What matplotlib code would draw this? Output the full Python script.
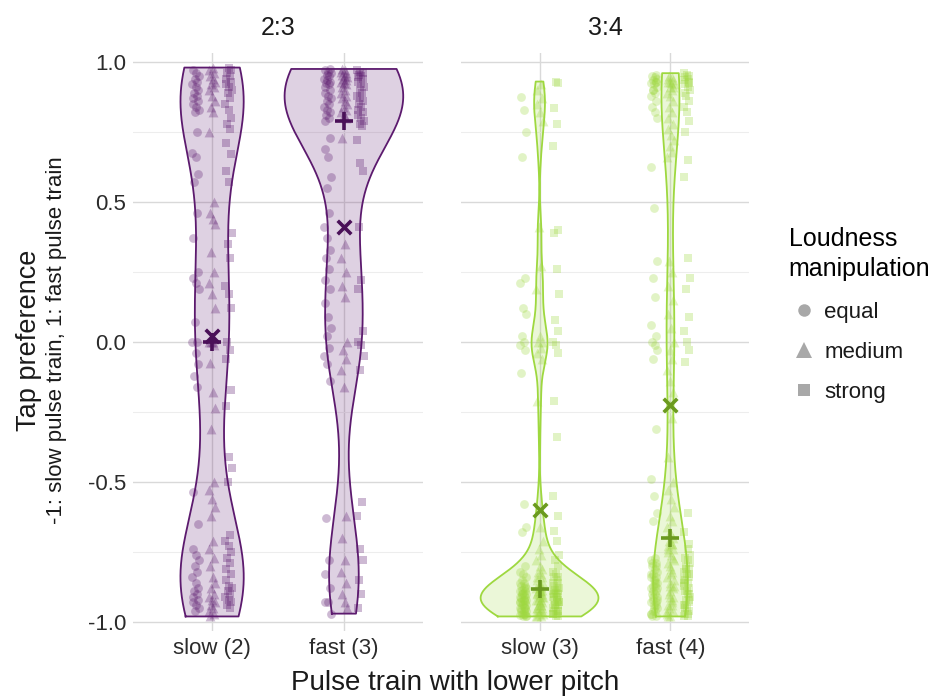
import numpy as np
import matplotlib
matplotlib.use('Agg')
import matplotlib.pyplot as plt
from matplotlib.lines import Line2D

plt.rcParams['font.family'] = ['Liberation Sans', 'DejaVu Sans']

# tap preference per trial: -1 = slow pulse train, 1 = fast pulse train
# ratio 2:3, lower pitch on the slow (2) train
slow2_equal = [0.97, 0.96, 0.95, 0.94, 0.93, 0.92, 0.91, 0.90, 0.89, 0.88, 0.87, 0.86, 0.85, 0.84, 0.83, 0.82,
               0.75, 0.675, 0.66, 0.60, 0.57, 0.46, 0.37, 0.25, 0.23, 0.21, 0.19, 0.07, 0.0, 0.0,
               -0.04, -0.08, -0.12, -0.16, -0.535, -0.65,
               -0.74, -0.76, -0.78, -0.80, -0.82, -0.84, -0.86, -0.88, -0.89, -0.90, -0.91, -0.92,
               -0.93, -0.94, -0.95, -0.96]
slow2_medium = [0.98, 0.97, 0.96, 0.95, 0.94, 0.93, 0.92, 0.91, 0.90, 0.88, 0.86, 0.84, 0.82,
                0.75, 0.50, 0.46, 0.44, 0.42, 0.32, 0.25, 0.21, 0.17, 0.12, 0.0, 0.0, 0.0, -0.01,
                -0.075, -0.18, -0.235, -0.31, -0.50, -0.53, -0.56, -0.59, -0.62, -0.71, -0.74, -0.77, -0.80,
                -0.84, -0.86, -0.88, -0.90, -0.91, -0.92, -0.93, -0.94, -0.95, -0.96, -0.97, -0.98]
slow2_strong = [0.98, 0.97, 0.96, 0.95, 0.94, 0.93, 0.92, 0.91, 0.90, 0.89, 0.87, 0.85, 0.83, 0.80, 0.78, 0.76,
                0.71, 0.67, 0.61, 0.57, 0.39, 0.35, 0.30, 0.20, 0.17, 0.12, 0.0,
                -0.03, -0.06, -0.17, -0.23, -0.41, -0.45, -0.50,
                -0.69, -0.71, -0.73, -0.75, -0.77, -0.79, -0.81, -0.83, -0.85, -0.87, -0.88, -0.89,
                -0.90, -0.91, -0.92, -0.93, -0.94, -0.95]

# ratio 2:3, lower pitch on the fast (3) train
fast3_equal = [0.975, 0.97, 0.965, 0.96, 0.955, 0.95, 0.94, 0.935, 0.93, 0.925, 0.92, 0.91, 0.90, 0.89,
               0.88, 0.87, 0.86, 0.85, 0.84, 0.83, 0.82, 0.81, 0.80,
               0.79, 0.73, 0.69, 0.66, 0.59, 0.55, 0.46, 0.41, 0.37, 0.33, 0.30, 0.26, 0.22, 0.19, 0.14,
               0.09, 0.05, 0.02,
               -0.02, -0.05, -0.08, -0.14, -0.63, -0.78, -0.83, -0.88, -0.93, -0.93, -0.97]
fast3_medium = [0.975, 0.97, 0.965, 0.96, 0.955, 0.95, 0.945, 0.94, 0.935, 0.93, 0.925, 0.92, 0.91, 0.90,
                0.89, 0.88, 0.87, 0.86, 0.85, 0.84, 0.83, 0.82, 0.81, 0.80,
                0.73, 0.35, 0.30, 0.25, 0.20, 0.16, 0.0,
                -0.03, -0.06, -0.10, -0.16, -0.62, -0.70, -0.78, -0.82, -0.86, -0.90, -0.93, -0.95]
fast3_strong = [0.97, 0.965, 0.96, 0.955, 0.95, 0.945, 0.94, 0.93, 0.92, 0.91, 0.90, 0.89, 0.88, 0.87,
                0.86, 0.85, 0.84, 0.83, 0.82, 0.81, 0.80, 0.79, 0.78, 0.77,
                0.72, 0.64, 0.61, 0.41, 0.22, 0.19, 0.04, 0.0,
                -0.01, -0.05, -0.10, -0.57, -0.62, -0.74, -0.78, -0.85, -0.90, -0.95]

# ratio 3:4, lower pitch on the slow (3) train
slow3_equal = [0.875, 0.83, 0.75, 0.66,
               0.23, 0.21, 0.12, 0.10, 0.02, 0.0, -0.01, -0.03, -0.11,
               -0.58, -0.66, -0.68,
               -0.80, -0.82, -0.83, -0.84, -0.85, -0.86, -0.86, -0.87, -0.87, -0.88,
               -0.88, -0.885, -0.89, -0.89, -0.895, -0.90, -0.90, -0.905, -0.91, -0.91,
               -0.915, -0.92, -0.92, -0.925, -0.93, -0.93, -0.935, -0.94, -0.94, -0.945,
               -0.95, -0.95, -0.955, -0.96, -0.96, -0.97, -0.97, -0.975, -0.98, -0.98,
               -0.90, -0.92, -0.93, -0.95, -0.96, -0.97, -0.98]
slow3_medium = [0.92, 0.90, 0.87, 0.85, 0.82, 0.79,
                0.41, 0.27, 0.19, 0.02, 0.0, 0.0, -0.02, -0.04, -0.06, -0.21,
                -0.66,
                -0.71, -0.74, -0.76, -0.78, -0.80, -0.81, -0.82, -0.83, -0.84, -0.84,
                -0.85, -0.86, -0.86, -0.87, -0.875, -0.88, -0.88, -0.885, -0.89, -0.89,
                -0.895, -0.90, -0.90, -0.905, -0.91, -0.91, -0.92, -0.92, -0.93, -0.93,
                -0.94, -0.94, -0.95, -0.95, -0.96, -0.96, -0.97, -0.97, -0.98, -0.98,
                -0.89, -0.91, -0.92, -0.94, -0.95, -0.96, -0.98]
slow3_strong = [0.93, 0.925, 0.835, 0.78, 0.70,
                0.40, 0.39, 0.26, 0.17, 0.08, 0.04, 0.0, -0.01, -0.04, -0.21, -0.34,
                -0.55, -0.62, -0.675, -0.71,
                -0.76, -0.78, -0.80, -0.82, -0.83, -0.84, -0.84, -0.85, -0.86, -0.86,
                -0.87, -0.88, -0.88, -0.885, -0.89, -0.89, -0.895, -0.90, -0.90, -0.91,
                -0.91, -0.92, -0.92, -0.93, -0.93, -0.94, -0.94, -0.95, -0.95, -0.96,
                -0.96, -0.97, -0.97, -0.98,
                -0.90, -0.91, -0.93, -0.94, -0.96, -0.97, -0.98]

# ratio 3:4, lower pitch on the fast (4) train
fast4_equal = [0.955, 0.95, 0.945, 0.94, 0.935, 0.93, 0.925, 0.92, 0.91, 0.90, 0.89, 0.88, 0.86, 0.84,
               0.82, 0.80, 0.90, 0.93,
               0.625, 0.48, 0.29, 0.23, 0.16, 0.06, 0.02, 0.0, -0.01, -0.03, -0.06,
               -0.31, -0.49, -0.55, -0.61, -0.64,
               -0.77, -0.78, -0.79, -0.80, -0.81, -0.82, -0.83, -0.84, -0.84, -0.85,
               -0.86, -0.87, -0.87, -0.88, -0.89, -0.90, -0.90, -0.91, -0.92, -0.93,
               -0.93, -0.94, -0.95, -0.96, -0.96, -0.97, -0.98, -0.98, -0.85, -0.88,
               -0.91, -0.94, -0.97, -0.95, -0.92, -0.89, -0.86, -0.83, -0.80, -0.79]
fast4_medium = [0.95, 0.945, 0.94, 0.935, 0.93, 0.925, 0.92, 0.91, 0.90, 0.89, 0.88, 0.86, 0.84, 0.82,
                0.80, 0.78, 0.76, 0.74, 0.72, 0.70, 0.68, 0.66, 0.93, 0.91,
                0.29, 0.25, 0.20, 0.15, 0.10, 0.05, 0.0, -0.03, -0.06, -0.10, -0.14, -0.18, -0.22,
                -0.27, -0.41,
                -0.50, -0.53, -0.56, -0.59, -0.62, -0.64, -0.66, -0.68, -0.70,
                -0.71, -0.72, -0.73, -0.74, -0.75, -0.76, -0.78, -0.80, -0.82, -0.84,
                -0.86, -0.88, -0.90, -0.92, -0.94, -0.96, -0.98, -0.81, -0.85, -0.89,
                -0.93, -0.97, -0.87, -0.91, -0.95,
                -0.72, -0.74, -0.77, -0.79, -0.83, -0.87, -0.91, -0.94, -0.96, -0.98]
fast4_strong = [0.96, 0.955, 0.95, 0.945, 0.94, 0.935, 0.93, 0.92, 0.91, 0.90, 0.88, 0.86, 0.84, 0.82,
                0.79, 0.75, 0.65, 0.59, 0.925, 0.89,
                0.30, 0.23, 0.19, 0.09, 0.04, 0.0, -0.03, -0.07,
                -0.61, -0.68,
                -0.72, -0.77, -0.78, -0.79, -0.80, -0.81, -0.82, -0.83, -0.84, -0.85,
                -0.86, -0.87, -0.88, -0.89, -0.90, -0.91, -0.92, -0.93, -0.94, -0.95,
                -0.96, -0.97, -0.98, -0.86, -0.90, -0.94,
                -0.74, -0.76, -0.81, -0.83, -0.85, -0.89, -0.92, -0.95, -0.97, -0.98]

ratios = ['2:3', '3:4']
categories = [['slow (2)', 'fast (3)'], ['slow (3)', 'fast (4)']]
loudness = ['equal', 'medium', 'strong']
panel_data = [
    [[slow2_equal, slow2_medium, slow2_strong], [fast3_equal, fast3_medium, fast3_strong]],
    [[slow3_equal, slow3_medium, slow3_strong], [fast4_equal, fast4_medium, fast4_strong]],
]

fill_colors = ['#5c1a6e', '#9ed83f']
stat_colors = ['#4a1058', '#6b9a1f']
shapes = ['o', '^', 's']
shape_sizes = [40, 50, 34]
dodge = [-0.125, 0.0, 0.125]
jitter = np.array([-0.6, 0.2, 0.9, -0.2, 0.5, -0.9, 0.0, 0.7, -0.4, 0.3, -0.75, 0.6]) * 0.028
bw_adjust = 0.85


def bw_nrd0(x):
    sd = np.std(x, ddof=1)
    q75, q25 = np.percentile(x, [75, 25])
    lo = min(sd, (q75 - q25) / 1.34)
    if lo <= 0:
        lo = sd
    return 0.9 * lo * len(x) ** -0.2


def kde(x, grid):
    bw = bw_nrd0(x) * bw_adjust
    z = (grid[:, None] - x[None, :]) / bw
    return np.exp(-0.5 * z ** 2).sum(axis=1) / (len(x) * bw * np.sqrt(2 * np.pi))


W, H = 940, 696
fig = plt.figure(figsize=(W / 100, H / 100), dpi=100)
ax_boxes = [(133, 53, 290, 578), (461, 53, 288, 578)]

for p, ratio in enumerate(ratios):
    x0, y0, w, h = ax_boxes[p]
    ax = fig.add_axes([x0 / W, 1 - (y0 + h) / H, w / W, h / H])

    # violins, width scaled to the largest density in the panel
    dens = []
    for groups in panel_data[p]:
        y = np.concatenate([np.asarray(g, float) for g in groups])
        grid = np.linspace(y.min(), y.max(), 512)
        dens.append((grid, kde(y, grid), y))
    dmax = max(d.max() for _, d, _ in dens)

    for i, (grid, d, y) in enumerate(dens):
        pos = i + 1
        half = 0.45 * d / dmax
        xs = np.concatenate([pos - half, (pos + half)[::-1], [pos - half[0]]])
        ys = np.concatenate([grid, grid[::-1], [grid[0]]])
        ax.fill(xs, ys, facecolor=fill_colors[p], alpha=0.2, edgecolor='none', zorder=2)
        ax.plot(xs, ys, color=fill_colors[p], lw=1.3, zorder=3)

        for k, vals in enumerate(panel_data[p][i]):
            vals = np.asarray(vals, float)
            jx = pos + dodge[k] + np.resize(np.roll(jitter, k * 3 + i), len(vals))
            ax.scatter(jx, vals, marker=shapes[k], s=shape_sizes[k], color=fill_colors[p],
                       alpha=0.3, linewidths=0, zorder=4)

        ax.scatter(pos, np.median(y), marker='+', s=150, color=stat_colors[p], linewidths=2.6, zorder=6)
        ax.scatter(pos, np.mean(y), marker='x', s=95, color=stat_colors[p], linewidths=2.6, zorder=6)

    ax.set_xlim(0.4, 2.6)
    ax.set_ylim(-1.032, 1.032)
    ax.set_xticks([1, 2])
    ax.set_xticklabels(categories[p])
    ax.set_yticks([-1, -0.5, 0, 0.5, 1])
    ax.set_yticks([-0.75, -0.25, 0.25, 0.75], minor=True)
    ax.set_yticklabels(['-1.0', '-0.5', '0.0', '0.5', '1.0'])
    if p == 1:
        ax.tick_params(axis='y', labelleft=False)
    ax.tick_params(which='both', length=0, labelsize=16, colors='#2b2b2b', pad=5)
    ax.grid(True, which='major', color='#d9d9d9', lw=1.0, zorder=0)
    ax.grid(True, which='minor', axis='y', color='#ededed', lw=0.8, zorder=0)
    for s in ax.spines.values():
        s.set_visible(False)
    ax.set_axisbelow(True)
    ax.patch.set_alpha(0)

    fig.text((x0 + w / 2) / W, 1 - 28 / H, ratio, ha='center', va='center', fontsize=18, color='#1a1a1a')

fig.text(455 / W, 1 - 683 / H, 'Pulse train with lower pitch', ha='center', va='center',
         fontsize=20, color='#1a1a1a')
fig.text(29 / W, 1 - 340 / H, 'Tap preference', rotation=90, ha='center', va='center',
         fontsize=19.5, color='#1a1a1a')
fig.text(57 / W, 1 - 340 / H, '-1: slow pulse train, 1: fast pulse train', rotation=90,
         ha='center', va='center', fontsize=16, color='#1a1a1a')

handles = [Line2D([], [], marker=m, linestyle='none', markersize=ms, color='#a8a8a8',
                  markeredgewidth=0) for m, ms in zip(shapes, [9, 11, 8.5])]
leg = fig.legend(handles, loudness, title='Loudness\nmanipulation', loc='upper left',
                 bbox_to_anchor=(773 / W, 1 - 211 / H), frameon=False, fontsize=16,
                 title_fontsize=18, labelspacing=0.85, handletextpad=0.2, handlelength=1.4,
                 alignment='left', borderaxespad=0.3)
leg._legend_box.sep = 15
leg.get_title().set_linespacing(1.35)
for t in leg.get_texts():
    t.set_color('#1a1a1a')

fig.savefig('out.png', dpi=100)
